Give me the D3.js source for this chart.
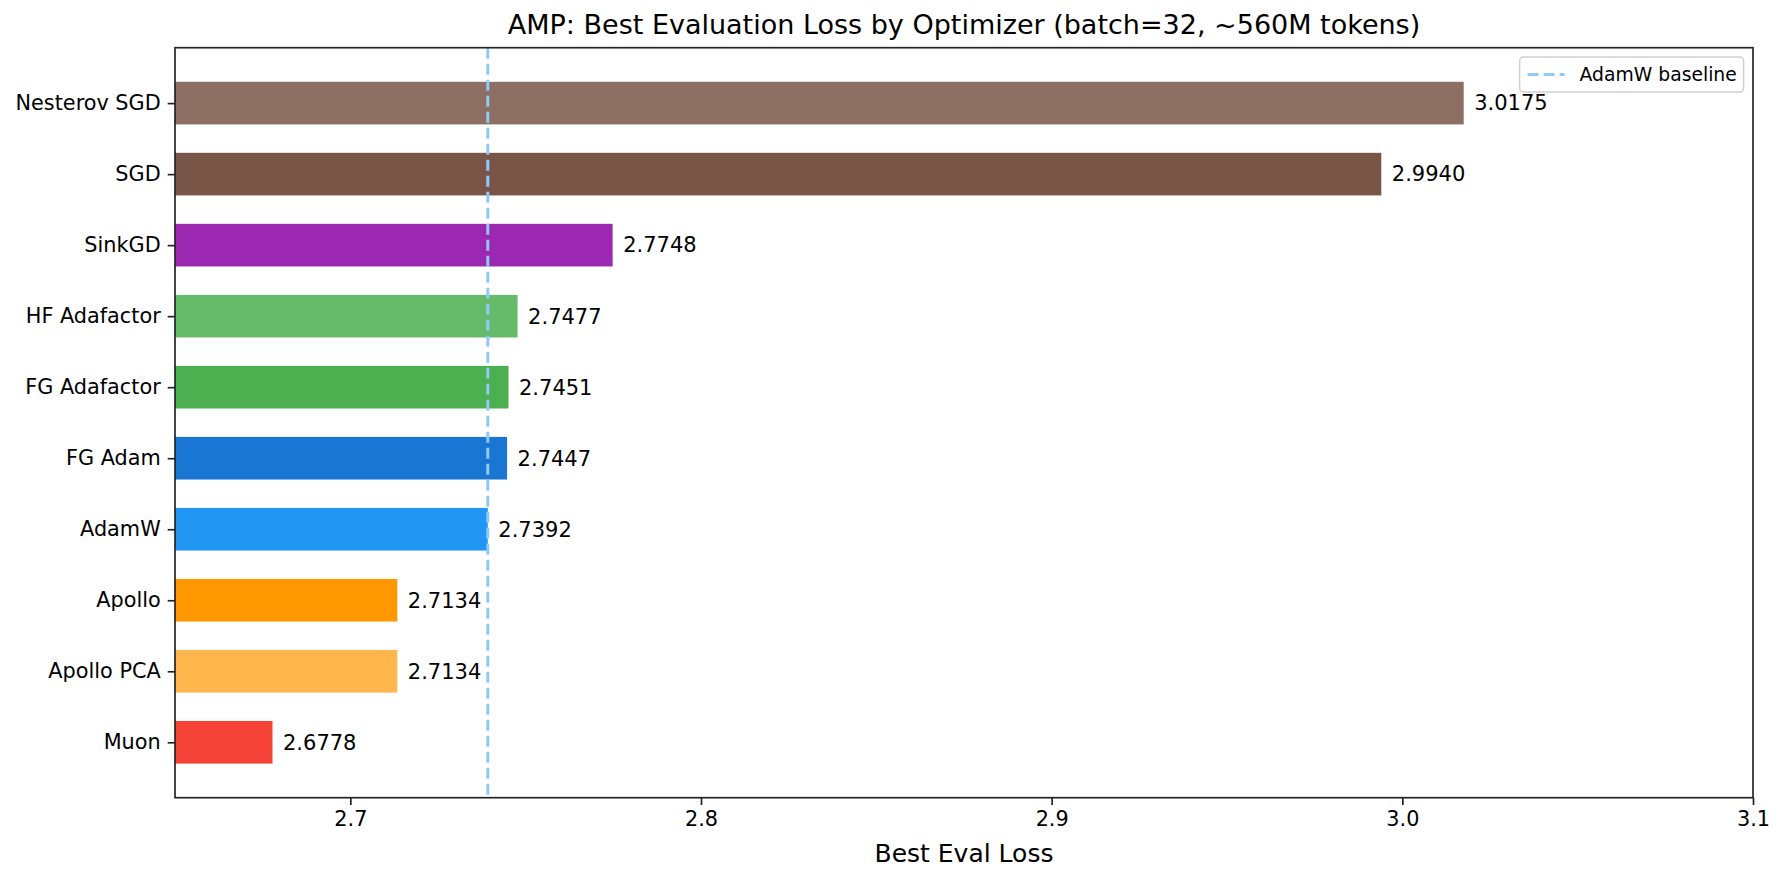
<!DOCTYPE html>
<html>
<head>
<meta charset="utf-8">
<script src="https://cdn.jsdelivr.net/npm/d3@7"></script>
<style>
  body { margin: 0; background: #fff; }
  svg { display: block; font-family: "DejaVu Sans", sans-serif; }
</style>
</head>
<body>
<svg id="chart" width="1785" height="880"></svg>
<script>
// optimizers, bottom to top
var optimizers = ["Muon", "Apollo PCA", "Apollo", "AdamW", "FG Adam", "FG Adafactor", "HF Adafactor", "SinkGD", "SGD", "Nesterov SGD"];
var bestLoss = [2.6778, 2.7134, 2.7134, 2.7392, 2.7447, 2.7451, 2.7477, 2.7748, 2.9940, 3.0175];
var barColors = ["#F44336", "#FFB74D", "#FF9800", "#2196F3", "#1976D2", "#4CAF50", "#66BB6A", "#9C27B0", "#795548", "#8D6E63"];
var xTicks = [2.7, 2.8, 2.9, 3.0, 3.1];
var baseline = 2.7392;

var margin = {top: 47.7, right: 32, bottom: 82.3, left: 175},
    width = 1785 - margin.left - margin.right,
    height = 880 - margin.top - margin.bottom;

var svg = d3.select("#chart");
var g = svg.append("g")
    .attr("transform", "translate(" + margin.left + "," + margin.top + ")");

var x = d3.scaleLinear().domain([2.65, 3.1]).range([0, width]);
// y is numeric like matplotlib barh (index positions)
var y = d3.scaleLinear().domain([-0.78, 9.78]).range([height, 0]);
var barH = 0.6;

// bars
g.selectAll(".bar")
  .data(optimizers)
  .enter()
  .append("rect")
    .attr("class", "bar")
    .attr("x", 0)
    .attr("y", function(d, i) { return y(i + barH / 2); })
    .attr("width", function(d, i) { return x(bestLoss[i]) - x(2.65); })
    .attr("height", function(d, i) { return y(i - barH / 2) - y(i + barH / 2); })
    .attr("fill", function(d, i) { return barColors[i]; });

// value labels
g.selectAll(".val")
  .data(optimizers)
  .enter()
  .append("text")
    .attr("class", "val")
    .attr("x", function(d, i) { return x(bestLoss[i] + 0.003); })
    .attr("y", function(d, i) { return y(i); })
    .attr("dy", "0.35em")
    .style("font-size", "21px")
    .text(function(d, i) { return d3.format(".4f")(bestLoss[i]); });

// baseline
g.append("line")
    .attr("x1", x(baseline)).attr("x2", x(baseline))
    .attr("y1", 0).attr("y2", height)
    .attr("stroke", "#90CAF9")
    .attr("stroke-width", 3)
    .attr("stroke-dasharray", "11,5");

// axes
var xAxis = g.append("g")
    .attr("transform", "translate(0," + height + ")")
    .call(d3.axisBottom(x).tickValues(xTicks).tickFormat(d3.format(".1f")).tickSizeInner(7.3).tickSizeOuter(0).tickPadding(6));
var yAxis = g.append("g")
    .call(d3.axisLeft(y).tickValues(d3.range(optimizers.length)).tickFormat(function(i) { return optimizers[i]; }).tickSizeInner(7.3).tickSizeOuter(0).tickPadding(7));

[xAxis, yAxis].forEach(function(a) {
  a.selectAll("path").remove();
  a.selectAll("line").attr("stroke", "#222").attr("stroke-width", 1.67);
  a.selectAll("text").style("font-size", "20.8px").attr("fill", "#000").style("font-family", "DejaVu Sans");
});

// frame (spines)
g.append("rect")
    .attr("width", width).attr("height", height)
    .attr("fill", "none").attr("stroke", "#222").attr("stroke-width", 1.67);

// legend
var leg = g.append("g").attr("transform", "translate(" + (width - 9.4 - 224) + ",9.4)");
leg.append("rect")
    .attr("width", 224).attr("height", 35).attr("rx", 4)
    .attr("fill", "#fff").attr("fill-opacity", 0.8)
    .attr("stroke", "#d0d0d0").attr("stroke-width", 1.5);
leg.append("line")
    .attr("x1", 8).attr("x2", 45).attr("y1", 17.5).attr("y2", 17.5)
    .attr("stroke", "#90CAF9").attr("stroke-width", 3).attr("stroke-dasharray", "11,5");
leg.append("text")
    .attr("x", 60).attr("y", 17.5).attr("dy", "0.35em")
    .style("font-size", "18.75px")
    .text("AdamW baseline");

// title and x label
svg.append("text")
    .attr("x", margin.left + width / 2).attr("y", 25).attr("dy", "0.35em")
    .attr("text-anchor", "middle")
    .style("font-size", "27px")
    .text("AMP: Best Evaluation Loss by Optimizer (batch=32, ~560M tokens)");
svg.append("text")
    .attr("x", margin.left + width / 2).attr("y", 853).attr("dy", "0.35em")
    .attr("text-anchor", "middle")
    .style("font-size", "25px")
    .text("Best Eval Loss");
</script>
</body>
</html>
